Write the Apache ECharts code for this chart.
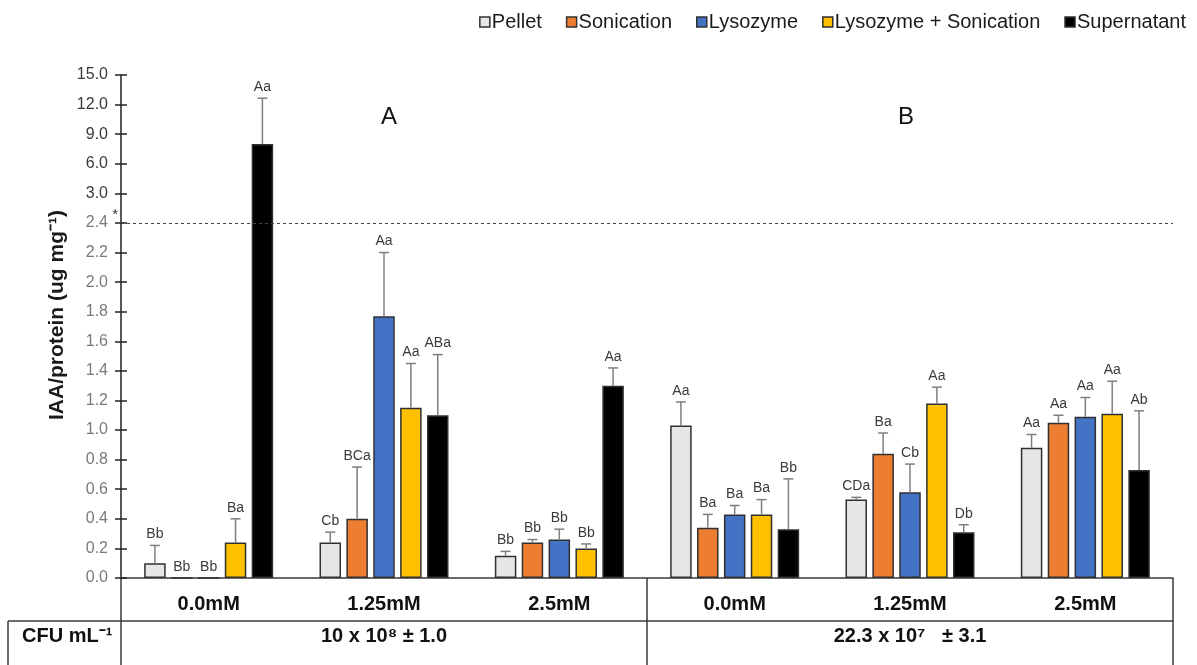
<!DOCTYPE html>
<html><head><meta charset="utf-8">
<script src="https://cdn.jsdelivr.net/npm/echarts@6/dist/echarts.min.js"></script>
<style>html,body{margin:0;padding:0;background:#fff}#c{width:1197px;height:665px}</style>
</head><body><div id="c"></div>
<script>
// ---------- data ----------
const categories = ['0.0mM', '1.25mM', '2.5mM', '0.0mM', '1.25mM', '2.5mM'];
const tickLabels = ['0.0','0.2','0.4','0.6','0.8','1.0','1.2','1.4','1.6','1.8','2.0','2.2','2.4','3.0','6.0','9.0','12.0','15.0'];
const treatments = ['Pellet', 'Sonication', 'Lysozyme', 'Lysozyme + Sonication', 'Supernatant'];

const pellet        = [0.10, 0.24, 0.15, 1.03, 0.53, 0.88];
const pelletErr     = [0.12, 0.07, 0.03, 0.16, 0.015, 0.09];
const sonication    = [0.00, 0.40, 0.24, 0.34, 0.84, 1.05];
const sonicationErr = [0.00, 0.35, 0.02, 0.09, 0.14, 0.05];
const lysozyme      = [0.00, 1.77, 0.26, 0.43, 0.58, 1.09];
const lysozymeErr   = [0.00, 0.43, 0.07, 0.06, 0.19, 0.13];
const lysSon        = [0.24, 1.15, 0.20, 0.43, 1.18, 1.11];
const lysSonErr     = [0.16, 0.30, 0.03, 0.10, 0.11, 0.22];
const supernatant   = [8.00, 1.10, 1.30, 0.33, 0.31, 0.73];
const supernatantErr= [4.65, 0.41, 0.12, 0.34, 0.05, 0.40];

const pelletLetters      = ['Bb', 'Cb', 'Bb', 'Aa', 'CDa', 'Aa'];
const sonicationLetters  = ['Bb', 'BCa', 'Bb', 'Ba', 'Ba', 'Aa'];
const lysozymeLetters    = ['Bb', 'Aa', 'Bb', 'Ba', 'Cb', 'Aa'];
const lysSonLetters      = ['Ba', 'Aa', 'Bb', 'Ba', 'Aa', 'Aa'];
const supernatantLetters = ['Aa', 'ABa', 'Aa', 'Bb', 'Db', 'Ab'];

const panelLabels = ['A', 'B'];
const cfuHeader = 'CFU mL⁻¹';
const cfuValues = ['10 x 10⁸ ± 1.0', '22.3 x 10⁷   ± 3.1'];
const yName = 'IAA/protein (ug mg⁻¹)';
const breakValue = 2.4;

// ---------- styles ----------
const colors = ['#e7e6e6', '#ed7d31', '#4472c4', '#ffc000', '#000000'];
const BAR_W = 21.5, BAR_GAP = 0.25;
const FONT = '"Liberation Sans", Arial, sans-serif';

const values = [pellet, sonication, lysozyme, lysSon, supernatant];
const errs = [pelletErr, sonicationErr, lysozymeErr, lysSonErr, supernatantErr];
const letters = [pelletLetters, sonicationLetters, lysozymeLetters, lysSonLetters, supernatantLetters];

// broken axis: piecewise-linear between the tick values (ticks evenly spaced)
const tickVals = tickLabels.map(Number);
function toAxis(v) {
  for (let i = 0; i < tickVals.length - 1; i++) {
    if (v <= tickVals[i + 1]) return i + (v - tickVals[i]) / (tickVals[i + 1] - tickVals[i]);
  }
  return tickVals.length - 1;
}

const series = [];
treatments.forEach((name, i) => {
  const s = {
    name, type: 'bar', barWidth: BAR_W, barGap: (BAR_GAP * 100) + '%',
    itemStyle: { color: colors[i], borderColor: '#303030', borderWidth: 1.5 },
    data: values[i].map(toAxis),
    z: 2
  };
  if (i === 0) {
    s.markLine = {
      silent: true, symbol: 'none',
      lineStyle: { type: [3, 3], color: '#444', width: 1 },
      label: { show: true, position: 'start', formatter: '*', distance: 3, offset: [0, -8], color: '#333', fontSize: 15, fontFamily: FONT },
      data: [{ yAxis: toAxis(breakValue) }]
    };
  }
  series.push(s);
});
treatments.forEach((name, i) => {
  const off = (i - 2) * BAR_W * (1 + BAR_GAP);
  series.push({
    name: 'err-' + name, type: 'custom', silent: true, z: 3,
    encode: { x: 0, y: [1, 2] },
    data: values[i].map((v, j) => [j, toAxis(v), toAxis(v + errs[i][j])]),
    renderItem: (params, api) => {
      const ci = api.value(0);
      const b = api.coord([ci, api.value(1)]);
      const t = api.coord([ci, api.value(2)]);
      const x = b[0] + off;
      const ch = [];
      if (t[1] < b[1] - 0.5) {
        ch.push({ type: 'line', shape: { x1: x, y1: b[1], x2: x, y2: t[1] }, style: { stroke: '#7f7f7f', lineWidth: 1.5 } });
        ch.push({ type: 'line', shape: { x1: x - 5, y1: t[1], x2: x + 5, y2: t[1] }, style: { stroke: '#7f7f7f', lineWidth: 1.5 } });
      }
      ch.push({ type: 'text', x: x, y: t[1] - 4,
        style: { text: letters[i][params.dataIndex], align: 'center', verticalAlign: 'bottom', fill: '#3a3a3a', font: '14px ' + FONT } });
      return { type: 'group', children: ch };
    }
  });
});

const L = 121, R = 1173, BASE = 578, ROW = 621, BOT = 665;
const mid = (L + R) / 2;
const lineStyle = { stroke: '#3a3a3a', lineWidth: 1.5 };
const graphic = [
  { type: 'line', shape: { x1: L, y1: BASE, x2: L, y2: BOT }, style: lineStyle },
  { type: 'line', shape: { x1: mid, y1: BASE, x2: mid, y2: BOT }, style: lineStyle },
  { type: 'line', shape: { x1: R, y1: BASE, x2: R, y2: BOT }, style: lineStyle },
  { type: 'line', shape: { x1: 8, y1: ROW, x2: R, y2: ROW }, style: lineStyle },
  { type: 'line', shape: { x1: 8, y1: ROW, x2: 8, y2: BOT }, style: lineStyle },
  { type: 'text', x: 22, y: 636, style: { text: cfuHeader, font: 'bold 20px ' + FONT, fill: '#111', verticalAlign: 'middle' } },
  { type: 'text', x: (L + mid) / 2, y: 636, style: { text: cfuValues[0], font: 'bold 20px ' + FONT, fill: '#111', align: 'center', verticalAlign: 'middle' } },
  { type: 'text', x: (mid + R) / 2, y: 636, style: { text: cfuValues[1], font: 'bold 20px ' + FONT, fill: '#111', align: 'center', verticalAlign: 'middle' } },
  { type: 'text', x: 389, y: 117, style: { text: panelLabels[0], font: '24px ' + FONT, fill: '#111', align: 'center', verticalAlign: 'middle' } },
  { type: 'text', x: 906, y: 117, style: { text: panelLabels[1], font: '24px ' + FONT, fill: '#111', align: 'center', verticalAlign: 'middle' } },
  { type: 'text', x: 57, y: 315, rotation: Math.PI / 2, style: { text: yName, font: 'bold 21px ' + FONT, fill: '#1a1a1a', align: 'center', verticalAlign: 'middle' } }
];

const chart = echarts.init(document.getElementById('c'));
chart.setOption({
  animation: false,
  backgroundColor: '#fff',
  textStyle: { fontFamily: FONT },
  grid: { left: L, right: 1197 - R, top: 75, bottom: 665 - BASE, containLabel: false },
  legend: {
    data: treatments, top: 7, right: 6, icon: 'rect', itemWidth: 10, itemHeight: 10, itemGap: 24,
    itemStyle: { borderColor: '#303030', borderWidth: 1.5 },
    textStyle: { fontSize: 20, color: '#1a1a1a', fontFamily: FONT, padding: [0, 0, 0, -3] },
    selectedMode: false
  },
  xAxis: {
    type: 'category', data: categories,
    axisLine: { lineStyle: { color: '#3a3a3a', width: 1.5 } },
    axisTick: { show: false },
    axisLabel: { fontSize: 20, fontWeight: 'bold', color: '#111', margin: 16, interval: 0 },
    splitLine: { show: false }
  },
  yAxis: [{
    type: 'value', min: 0, max: tickLabels.length - 1, interval: 1,
    axisLine: { show: true, lineStyle: { color: '#222', width: 1.5 } },
    axisTick: { show: true, length: 6, lineStyle: { color: '#222', width: 1.5 } },
    axisLabel: { fontSize: 16, margin: 13, formatter: (v) => tickLabels[Math.round(v)],
      color: (v) => (Math.round(v) > 12 ? '#3a3a3a' : '#7a7a7a') },
    splitLine: { show: false }
  }, {
    type: 'value', min: 0, max: tickLabels.length - 1, interval: 1, position: 'left',
    axisLine: { show: false },
    axisTick: { show: true, inside: true, length: 6, lineStyle: { color: '#222', width: 1.5 } },
    axisLabel: { show: false }, splitLine: { show: false }
  }],
  series,
  graphic
});
</script></body></html>
